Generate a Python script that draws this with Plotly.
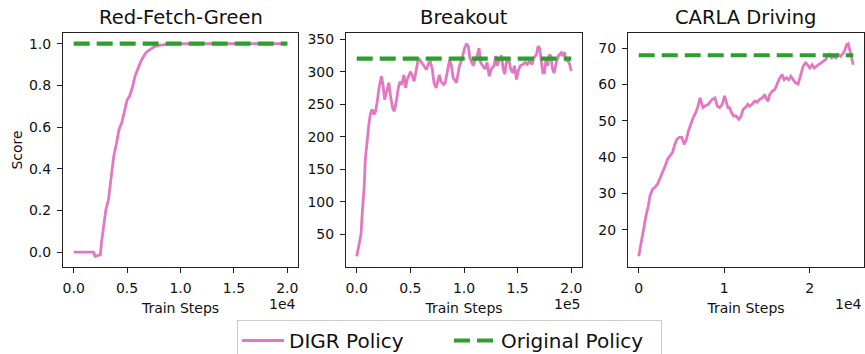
import plotly.graph_objects as go

# ---- Red-Fetch-Green ----
rfg_steps = [0, 250, 500, 750, 1000, 1250, 1500, 1750, 1850, 2000, 2250, 2500, 2600, 2750,
             3000, 3250, 3500, 3750, 4000, 4250, 4500, 4750, 5000, 5250, 5500, 5750,
             6000, 6250, 6500, 6750, 7000, 7250, 7500, 7750, 8000, 8250, 8500, 8750,
             9000, 9500, 10000, 11000, 12000, 13000, 14000, 15000, 16000, 17000,
             18000, 19000, 20000]
rfg_score = [0.0, 0.0, 0.0, 0.0, 0.0, 0.0, 0.0, 0.0, 0.0, -0.02, -0.015, -0.012, 0.045, 0.11,
             0.2, 0.25, 0.35, 0.46, 0.52, 0.59, 0.62, 0.68, 0.73, 0.75, 0.79, 0.845,
             0.88, 0.91, 0.935, 0.955, 0.967, 0.977, 0.984, 0.989, 0.992, 0.995, 0.997, 0.998,
             0.999, 1.0, 1.0, 1.0, 1.0, 1.0, 1.0, 1.0, 1.0, 1.0,
             1.0, 1.0, 1.0]
rfg_original = 1.0

# ---- Breakout ----
brk_steps_k = [0, 2, 4, 5, 7, 8, 10, 11.5, 13, 14.5, 16, 17.5, 19, 20.5, 23, 24.5, 26, 28.5,
               30, 31.5, 33.5, 35, 37, 39, 40.5, 42, 44, 45.5, 47, 48.5, 50, 51.5, 53.5,
               55.5, 57, 58.5, 61, 63, 65, 67, 68.5, 70.5, 72, 74, 75.5, 77, 78.5, 81, 82.5,
               84.5, 86.5, 88, 90, 93, 95.5, 98, 100.5, 102.5, 104, 105.5, 107, 108.5, 110,
               112.5, 114, 115.5, 117.5, 119.5, 121.5, 123.5, 125.5, 128, 129.5, 131, 132.5,
               135, 136.5, 138, 139.5, 141.5, 143.5, 145.5, 147, 149, 150.5, 152.5, 155, 157,
               159, 161, 163.5, 165, 167.5, 169, 170.5, 172, 173.5, 175, 176.5, 178, 179.5,
               181, 182.5, 184, 186, 188, 190.5, 192, 193.5, 195, 196.5, 198, 200]
brk_score = [16, 33, 50, 79, 124, 165, 201, 222, 237, 242, 234, 239, 252, 272, 293, 280, 257, 275,
             283, 262, 244, 239, 255, 277, 285, 280, 295, 275, 288, 293, 300, 295, 285,
             303, 316, 319, 313, 308, 303, 313, 316, 303, 283, 275, 288, 295, 285, 280, 283,
             298, 318, 311, 290, 283, 307, 319, 336, 343, 339, 321, 314, 309, 316,
             326, 336, 314, 309, 304, 314, 293, 304, 309, 324, 309, 316,
             325, 304, 296, 314, 321, 304, 298, 309, 288, 301, 309, 311, 314,
             311, 316, 311, 321, 326, 339, 336, 314, 298, 298, 319, 309, 326,
             324, 304, 298, 314, 324, 329, 324, 330, 319, 316, 314, 301]
brk_steps = [k * 1000 for k in brk_steps_k]
brk_original = 320

# ---- CARLA Driving ----
carla_steps = [0, 271, 543, 853, 1124, 1318, 1628, 1899, 2209, 2481, 2791, 3101, 3372, 3643,
               3953, 4225, 4457, 4729, 5039, 5310, 5581, 5814, 6085, 6357, 6667, 6938, 7171,
               7364, 7519, 7829, 8140, 8411, 8605, 8915, 9186, 9457, 9767, 10039, 10233,
               10426, 10620, 10853, 11124, 11395, 11705, 11977, 12209, 12481, 12752, 12978,
               13251, 13564, 13838, 14150, 14463, 14737, 14932, 15127, 15322, 15596, 15909,
               16182, 16495, 16768, 17003, 17276, 17550, 17784, 18057, 18331, 18644, 18917,
               19230, 19504, 19738, 20012, 20285, 20520, 20793, 21067, 21301, 21575, 21848,
               22083, 22278, 22552, 22825, 23059, 23333, 23607, 23919, 24115, 24310, 24505,
               24700, 24896, 25091]
carla_score = [12.7, 16.6, 20.3, 23.9, 26.7, 29.4, 31.2, 31.7, 32.6, 34.0, 35.8, 37.6, 39.4, 40.3,
               41.3, 43.5, 44.9, 45.4, 45.4, 43.5, 44.9, 47.2, 49.0, 50.8, 52.2, 54.0, 56.3,
               54.9, 53.6, 54.2, 54.5, 55.4, 55.9, 56.3, 54.0, 53.6, 54.5, 56.8, 54.9,
               53.6, 53.6, 52.2, 51.3, 51.3, 50.4, 51.3, 53.1, 53.6, 54.5, 54.0,
               54.5, 55.4, 55.1, 55.9, 56.3, 57.2, 55.9, 55.4, 57.2, 58.1, 58.6,
               60.0, 61.8, 62.7, 61.3, 61.8, 61.3, 62.2, 61.3, 60.4, 60.1, 62.2,
               65.0, 65.9, 65.4, 64.5, 65.4, 64.5, 65.0, 65.4, 65.9, 66.4, 66.8,
               67.7, 68.2, 67.3, 67.7, 67.3, 68.2, 67.7, 68.6, 69.5, 70.9, 71.2,
               69.5, 67.7, 65.4]
carla_original = 68

titles = ["Red-Fetch-Green", "Breakout", "CARLA Driving"]
x_tickvals = [[0, 5000, 10000, 15000, 20000],
              [0, 50000, 100000, 150000, 200000],
              [0, 10000, 20000]]
x_ticktext = [["0.0", "0.5", "1.0", "1.5", "2.0"],
              ["0.0", "0.5", "1.0", "1.5", "2.0"],
              ["0", "1", "2"]]
x_exponents = ["1e4", "1e5", "1e4"]
y_tickvals = [[0.0, 0.2, 0.4, 0.6, 0.8, 1.0],
              [50, 100, 150, 200, 250, 300, 350],
              [20, 30, 40, 50, 60, 70]]
y_ticktext = [["0.0", "0.2", "0.4", "0.6", "0.8", "1.0"],
              ["50", "100", "150", "200", "250", "300", "350"],
              ["20", "30", "40", "50", "60", "70"]]

panels = [(rfg_steps, rfg_score, rfg_original),
          (brk_steps, brk_score, brk_original),
          (carla_steps, carla_score, carla_original)]

PINK = "#e377c2"
GREEN = "#2ca02c"
FONT = "DejaVu Sans"
W, H = 865, 354

# subplot boxes in pixels (left, right)
boxes_px = [(63, 298), (346, 582), (628, 864)]
top_px, bottom_px = 33, 267


def padded(lo, hi, frac=0.05):
    span = hi - lo
    return [lo - frac * span, hi + frac * span]


fig = go.Figure()
annotations = []

for i, ((xs, ys, orig), title) in enumerate(zip(panels, titles)):
    n = "" if i == 0 else str(i + 1)
    xa, ya = "x" + n, "y" + n
    fig.add_trace(go.Scatter(x=xs, y=ys, mode="lines", name="DIGR Policy",
                             line=dict(color=PINK, width=2.8),
                             xaxis=xa, yaxis=ya, showlegend=(i == 0),
                             legendgroup="digr"))
    fig.add_trace(go.Scatter(x=[xs[0], xs[-1]], y=[orig, orig], mode="lines",
                             name="Original Policy",
                             line=dict(color=GREEN, width=4.2, dash="16px,7px"),
                             xaxis=xa, yaxis=ya, showlegend=(i == 0),
                             legendgroup="orig"))

    x0, x1 = boxes_px[i]
    dom_x = [x0 / W, x1 / W]
    dom_y = [1 - bottom_px / H, 1 - top_px / H]
    ymin = min(min(ys), orig)
    ymax = max(max(ys), orig)
    axis_common = dict(showline=True, mirror=True, linecolor="#222", linewidth=1.1,
                       ticks="outside", ticklen=5, tickwidth=1.1, tickcolor="#222",
                       showgrid=False, zeroline=False, automargin=False,
                       tickfont=dict(family=FONT, size=14, color="#111"))
    fig.layout["xaxis" + n] = dict(axis_common, domain=dom_x, anchor=ya,
                                   range=padded(xs[0], xs[-1]),
                                   tickvals=x_tickvals[i], ticktext=x_ticktext[i],
                                   ticklabelstandoff=3,
                                   title=dict(text="Train Steps", standoff=8,
                                              font=dict(family=FONT, size=14, color="#111")))
    fig.layout["yaxis" + n] = dict(axis_common, domain=dom_y, anchor=xa,
                                   range=padded(ymin, ymax),
                                   tickvals=y_tickvals[i], ticktext=y_ticktext[i],
                                   ticklabelstandoff=3)
    if i == 0:
        fig.layout["yaxis"].title = dict(text="Score", standoff=2,
                                         font=dict(family=FONT, size=14, color="#111"))

    # panel title
    annotations.append(dict(text=title, x=(dom_x[0] + dom_x[1]) / 2, y=dom_y[1],
                            xref="paper", yref="paper", xanchor="center", yanchor="bottom",
                            yshift=2, showarrow=False,
                            font=dict(family=FONT, size=19.5, color="#111")))
    # axis offset (scale) text
    annotations.append(dict(text=x_exponents[i], x=dom_x[1], y=1 - 303.5 / H,
                            xref="paper", yref="paper", xanchor="right", yanchor="middle",
                            showarrow=False,
                            font=dict(family=FONT, size=14, color="#111")))

fig.update_layout(
    width=W, height=H,
    margin=dict(l=0, r=0, t=0, b=0, autoexpand=False),
    paper_bgcolor="white", plot_bgcolor="white",
    font=dict(family=FONT, color="#111"),
    annotations=annotations,
    legend=dict(orientation="h", x=237 / W, xanchor="left", y=1 - 320 / H, yanchor="top",
                font=dict(family=FONT, size=20, color="#111"),
                bordercolor="#cccccc", borderwidth=1, bgcolor="white",
                itemwidth=42, entrywidth=155, entrywidthmode="pixels"),
)

fig.write_html("out.html")
